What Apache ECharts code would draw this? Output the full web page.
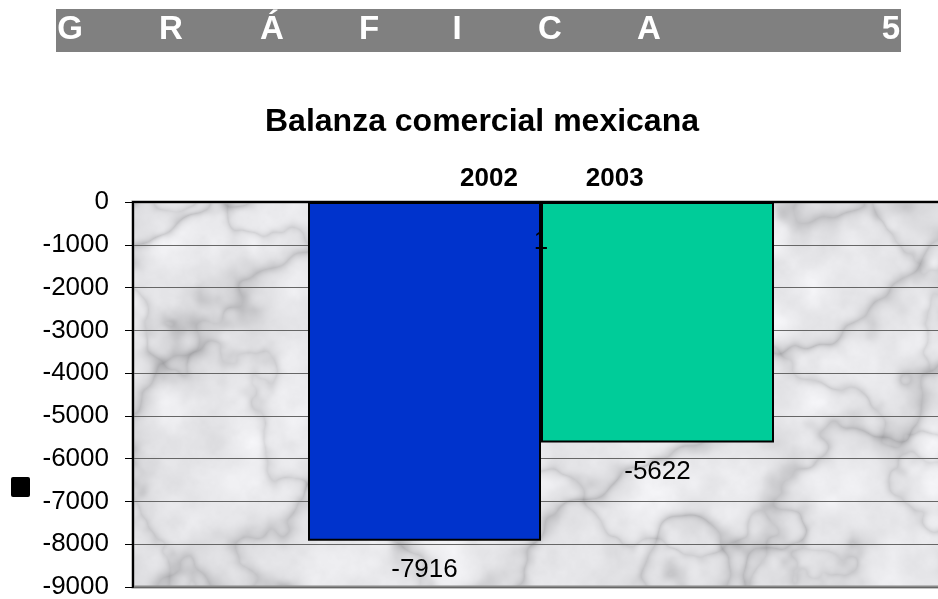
<!DOCTYPE html>
<html>
  <head>
    <meta charset="UTF-8" />
    <title>Balanza comercial mexicana</title>
    <script src="https://cdn.jsdelivr.net/npm/echarts@6.0.0/dist/echarts.min.js"></script>
    <style>
      html, body { margin: 0; padding: 0; background: #fff; }
    </style>
  </head>
  <body>
    <div id="chart" style="width: 938px; height: 599px"></div>
  </body>
  <script>
    // data
    const categories = ['1'];
    const years = ['2002', '2003'];
    const values2002 = [-7916];
    const values2003 = [-5622];
    const bannerLetters = ['G', 'R', 'Á', 'F', 'I', 'C', 'A', '5'];
    const bannerX = [70, 171, 272, 369, 457, 550, 649, 891];

    const FONT = '"Liberation Sans", Arial, sans-serif';
    const gridLeft = 133, gridTop = 202, gridW = 816, gridH = 385;

    // marble-ish texture for the plot background (just decoration)
    function hash(x, y) {
      let h = Math.imul(x, 374761393) + Math.imul(y, 668265263);
      h = Math.imul(h ^ (h >>> 13), 1274126177);
      return ((h ^ (h >>> 16)) >>> 0) / 4294967295;
    }
    function noise(x, y) {
      const xi = Math.floor(x), yi = Math.floor(y);
      const xf = x - xi, yf = y - yi;
      const u = xf * xf * (3 - 2 * xf), v = yf * yf * (3 - 2 * yf);
      const a = hash(xi, yi), b = hash(xi + 1, yi);
      const c = hash(xi, yi + 1), d = hash(xi + 1, yi + 1);
      return a + (b - a) * u + (c - a) * v + (a - b - c + d) * u * v;
    }
    function fbm(x, y, oct) {
      let s = 0, amp = 0.5, f = 1;
      for (let i = 0; i < oct; i++) { s += amp * noise(x * f, y * f); amp *= 0.5; f *= 2; }
      return s;
    }
    function marble(w, h) {
      const cv = document.createElement('canvas');
      cv.width = w; cv.height = h;
      const ctx = cv.getContext('2d');
      const img = ctx.createImageData(w, h);
      for (let y = 0; y < h; y++) {
        for (let x = 0; x < w; x++) {
          const t = fbm(x / 110, y / 110, 4);
          const s1 = Math.abs(Math.sin(x * 0.012 + y * 0.016 + t * 6));
          const s2 = Math.abs(Math.sin(x * 0.01 - y * 0.015 + fbm(x / 80 + 9, y / 80, 4) * 5));
          const vein = Math.pow(1 - s1, 4) * 0.5 + Math.pow(1 - s2, 4) * 0.35;
          const cloud = fbm(x / 40 + 30, y / 40, 5);
          const g = 250 - vein * 75 - cloud * 38;
          const i = (y * w + x) * 4;
          img.data[i] = g; img.data[i + 1] = g; img.data[i + 2] = g + 3; img.data[i + 3] = 255;
        }
      }
      ctx.putImageData(img, 0, 0);
      return cv;
    }

    const texture = marble(938 - gridLeft, gridH);

    const bannerTexts = bannerLetters.map((ch, i) => ({
      type: 'text',
      x: bannerX[i],
      y: 30,
      z: 2,
      style: {
        text: ch,
        fill: '#fff',
        font: 'bold 33px ' + FONT,
        align: 'center',
        verticalAlign: 'middle'
      }
    }));

    let myChart = echarts.init(document.getElementById('chart'));

    myChart.setOption({
      animation: false,
      backgroundColor: '#fff',
      textStyle: { fontFamily: FONT },
      title: {
        text: 'Balanza comercial mexicana',
        left: 477,
        top: 101,
        textAlign: 'center',
        textStyle: { fontSize: 32, fontWeight: 'bold', color: '#000', fontFamily: FONT }
      },
      legend: {
        data: years,
        left: 449,
        top: 161,
        icon: 'rect',
        itemWidth: 0,
        itemHeight: 0,
        itemGap: 62,
        textStyle: { fontSize: 26, fontWeight: 'bold', color: '#000', fontFamily: FONT }
      },
      grid: {
        left: gridLeft,
        top: gridTop,
        width: gridW,
        height: gridH,
        containLabel: false,
        outerBoundsMode: 'none',
        show: true,
        backgroundColor: 'transparent',
        borderColor: '#8a8a8a',
        borderWidth: 3
      },
      graphic: [
        { type: 'rect', z: -20, shape: { x: 56, y: 9, width: 845, height: 43 }, style: { fill: '#808080' } },
        ...bannerTexts,
        {
          type: 'image', z: -10,
          style: { image: texture, x: gridLeft, y: gridTop, width: 938 - gridLeft, height: gridH }
        },
        { type: 'rect', shape: { x: 11, y: 477, width: 19, height: 20, r: 2 }, style: { fill: '#000' } }
      ],
      xAxis: {
        type: 'category',
        data: categories,
        position: 'top',
        z: 10,
        axisLine: { onZero: false, lineStyle: { color: '#000', width: 2 } },
        axisTick: { show: false },
        axisLabel: { inside: true, margin: 27, fontSize: 26, color: '#000', fontFamily: FONT },
        splitLine: { show: false }
      },
      yAxis: {
        type: 'value',
        min: -9000,
        max: 0,
        interval: 1000,
        axisLine: { show: true, lineStyle: { color: '#000', width: 2 } },
        axisTick: { show: true, length: 8, lineStyle: { color: '#000', width: 1 } },
        axisLabel: { margin: 24, fontSize: 26, color: '#000', fontFamily: FONT, formatter: v => String(v) },
        splitLine: { show: true, lineStyle: { color: '#666', width: 1 } }
      },
      series: [
        {
          name: years[0],
          type: 'bar',
          data: values2002,
          barWidth: 233,
          barGap: '0%',
          itemStyle: { color: '#0033CC', borderColor: '#000', borderWidth: 2 },
          label: { show: true, position: 'bottom', distance: 16, fontSize: 26, color: '#000', fontFamily: FONT }
        },
        {
          name: years[1],
          type: 'bar',
          data: values2003,
          barWidth: 233,
          barGap: '0%',
          itemStyle: { color: '#00CC99', borderColor: '#000', borderWidth: 2 },
          label: { show: true, position: 'bottom', distance: 16, fontSize: 26, color: '#000', fontFamily: FONT }
        }
      ]
    });
  </script>
</html>
